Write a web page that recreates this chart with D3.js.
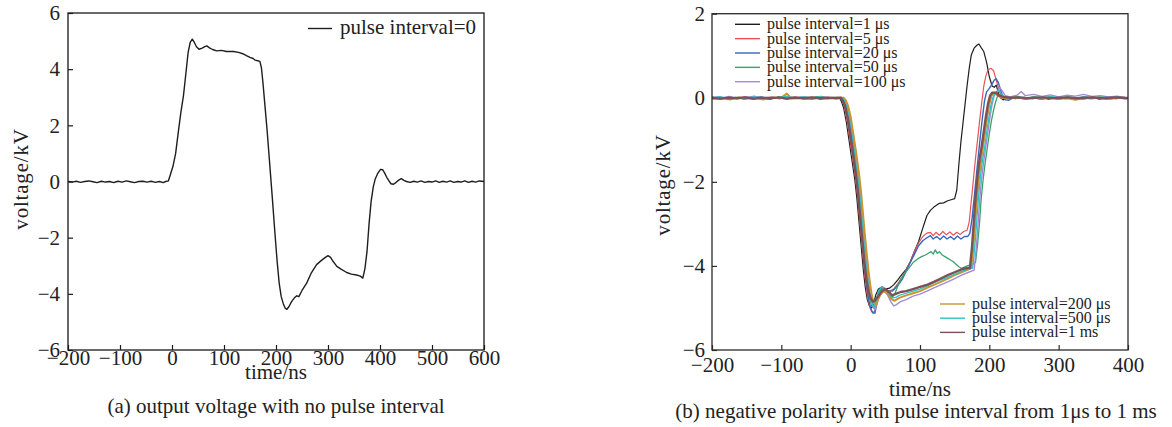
<!DOCTYPE html>
<html>
<head>
<meta charset="utf-8">
<script src="https://cdn.jsdelivr.net/npm/d3@7"></script>
<style>
  html, body { margin: 0; padding: 0; background: #fff; }
  svg { display: block; }
  text { font-family: "Liberation Serif", "Times New Roman", serif; fill: #222; }
</style>
</head>
<body>
<svg id="chart" width="1172" height="427"></svg>
<script>
// ---------- data: (a) output voltage, no pulse interval  [time ns, voltage kV]
const waveNoInterval = [
  [-200,0],[-192,-0.02],[-184,0.01],[-176,-0.03],[-168,0],[-160,0.02],[-152,-0.01],[-144,-0.04],
  [-136,0.01],[-128,-0.02],[-120,0],[-112,-0.04],[-104,0.01],[-96,-0.02],[-88,0.02],[-80,-0.01],
  [-72,-0.04],[-64,0],[-56,0.01],[-48,-0.02],[-40,0.01],[-32,-0.03],[-24,0],[-17,-0.04],[-12,0],
  [-7,0.02],[-3,0.25],[2,0.55],[7,1.0],[12,1.74],[17,2.45],[22,3.05],[27,3.9],[31,4.6],[35,4.95],
  [39,5.07],[43,4.95],[47,4.8],[52,4.71],[58,4.75],[63,4.8],[67,4.83],[72,4.76],[78,4.7],[86,4.65],
  [95,4.67],[105,4.63],[118,4.63],[128,4.6],[136,4.55],[143,4.48],[150,4.42],[156,4.38],[160,4.32],
  [165,4.3],[169,4.28],[172,4.05],[175,3.5],[178,2.86],[183,1.8],[188,0.6],[193,-0.6],[198,-1.85],
  [202,-2.8],[206,-3.6],[210,-4.1],[214,-4.35],[218,-4.52],[221,-4.55],[225,-4.45],[230,-4.28],
  [235,-4.15],[240,-4.07],[244,-4.1],[250,-3.88],[259,-3.62],[268,-3.25],[278,-2.96],[288,-2.8],
  [295,-2.7],[300,-2.64],[305,-2.7],[310,-2.85],[317,-3.02],[325,-3.12],[336,-3.24],[345,-3.3],
  [355,-3.33],[362,-3.37],[367,-3.44],[371,-3.1],[375,-2.5],[379,-1.5],[383,-0.7],[387,-0.2],
  [391,0.1],[396,0.3],[401,0.43],[405,0.42],[409,0.3],[413,0.15],[417,0.03],[421,-0.08],[426,-0.1],
  [431,-0.03],[436,0.05],[441,0.1],[446,0.04],[451,0],[458,-0.03],[465,0.01],[472,-0.02],[479,0.02],
  [486,-0.03],[493,0],[500,-0.02],[507,0.02],[514,-0.03],[521,0.01],[528,-0.02],[535,0.02],
  [542,-0.03],[549,0],[556,-0.02],[563,0.02],[570,-0.03],[577,0.01],[584,-0.02],[591,0.02],[600,0]
];

// ---------- data: (b) negative polarity, various pulse intervals  [time ns, voltage kV]
const wave1us = [
  [-200,-0.02],[-188,0.01],[-176,-0.03],[-164,0],[-152,-0.02],[-140,0.02],[-128,-0.01],[-116,-0.03],
  [-104,0.01],[-92,-0.02],[-80,0],[-68,-0.02],[-56,0.01],[-44,-0.03],[-32,0],[-22,-0.01],[-16,0],
  [-13,-0.1],[-10,-0.25],[-6,-0.6],[-2,-1.05],[2,-1.5],[6,-1.95],[9,-2.4],[12,-2.95],[15,-3.5],
  [18,-4.05],[21,-4.5],[24,-4.8],[27,-4.95],[30,-5.0],[33,-4.92],[36,-4.7],[40,-4.55],[45,-4.5],
  [50,-4.55],[56,-4.53],[62,-4.45],[68,-4.33],[74,-4.2],[80,-4.08],[86,-3.9],[92,-3.65],[98,-3.42],
  [104,-3.1],[110,-2.8],[115,-2.68],[120,-2.6],[128,-2.51],[134,-2.5],[140,-2.45],[146,-2.42],
  [150,-2.4],[153,-2.2],[156,-1.6],[159,-1.05],[162,-0.6],[165,-0.15],[168,0.3],[171,0.7],[174,1.02],
  [178,1.18],[182,1.25],[185,1.28],[188,1.2],[192,1.1],[196,0.85],[200,0.5],[204,0.28],[207,0.25],
  [210,0.3],[213,0.12],[216,0],[220,-0.05],[226,0],[238,-0.02],[250,0.01],[262,-0.02],[274,0],
  [286,-0.03],[298,0.01],[310,-0.02],[322,0],[334,-0.02],[346,0.01],[358,-0.03],[370,0],[382,-0.02],
  [394,0.01],[400,0]
];
const wave5us = [
  [-200,0.01],[-189,-0.03],[-177,0],[-165,-0.02],[-153,0.02],[-141,-0.01],[-129,0],[-117,-0.03],
  [-105,0.01],[-93,-0.02],[-81,0.02],[-69,-0.01],[-57,0],[-45,-0.02],[-33,0.01],[-21,-0.02],[-15,0],
  [-12,-0.08],[-9,-0.22],[-5,-0.55],[-1,-1.0],[3,-1.45],[7,-1.9],[10,-2.35],[13,-2.9],[16,-3.45],
  [19,-4.0],[22,-4.45],[25,-4.8],[28,-5.0],[31,-5.1],[34,-5.1],[37,-4.85],[40,-4.62],[44,-4.5],
  [48,-4.55],[52,-4.6],[56,-4.6],[62,-4.55],[68,-4.42],[74,-4.27],[80,-4.1],[86,-3.9],[92,-3.66],
  [98,-3.45],[104,-3.3],[110,-3.22],[115,-3.2],[119,-3.28],[123,-3.2],[128,-3.27],[133,-3.18],
  [138,-3.26],[143,-3.19],[148,-3.27],[153,-3.2],[158,-3.25],[163,-3.18],[168,-3.15],[171,-2.95],
  [174,-2.45],[177,-1.95],[180,-1.45],[183,-1.0],[186,-0.55],[189,-0.12],[192,0.28],[195,0.52],
  [198,0.66],[202,0.7],[206,0.65],[210,0.42],[214,0.18],[218,0.03],[222,-0.03],[228,0],[240,0.02],
  [252,-0.02],[264,0.01],[276,-0.03],[288,0],[300,-0.02],[312,0.02],[324,-0.01],[336,-0.03],[348,0],
  [360,-0.02],[372,0.01],[384,-0.02],[396,0],[400,-0.01]
];
const wave20us = [
  [-200,-0.01],[-190,0.02],[-178,-0.02],[-166,0.01],[-154,-0.03],[-142,0],[-130,0.02],[-118,-0.02],
  [-106,0],[-94,0.03],[-82,-0.01],[-70,0.01],[-58,-0.02],[-46,0.02],[-34,-0.01],[-22,0],[-14,0],
  [-11,-0.08],[-8,-0.2],[-4,-0.52],[0,-0.95],[4,-1.4],[8,-1.9],[11,-2.35],[14,-2.9],[17,-3.45],
  [20,-3.98],[23,-4.45],[26,-4.8],[29,-5.02],[32,-5.12],[35,-5.12],[38,-4.88],[42,-4.6],[46,-4.5],
  [50,-4.55],[55,-4.6],[60,-4.6],[65,-4.52],[70,-4.42],[75,-4.3],[80,-4.12],[86,-3.92],[92,-3.72],
  [98,-3.52],[104,-3.4],[110,-3.33],[115,-3.28],[119,-3.36],[124,-3.3],[129,-3.37],[134,-3.29],
  [139,-3.36],[144,-3.3],[149,-3.37],[154,-3.29],[159,-3.36],[164,-3.3],[169,-3.3],[172,-3.22],
  [175,-2.88],[178,-2.4],[181,-1.9],[184,-1.4],[187,-0.92],[190,-0.48],[193,-0.08],[196,0.14],
  [199,0.2],[203,0.3],[207,0.42],[210,0.45],[213,0.36],[216,0.2],[219,0.05],[223,-0.05],[228,-0.06],
  [232,-0.02],[240,0],[252,-0.02],[264,0.02],[276,-0.01],[288,0],[300,-0.03],[312,0.01],[324,-0.02],
  [336,0.02],[348,-0.01],[360,0],[372,-0.02],[384,0.01],[396,-0.01],[400,0]
];
const wave50us = [
  [-200,0],[-188,-0.03],[-176,0.01],[-164,-0.02],[-152,0],[-140,-0.04],[-128,0.01],[-116,-0.02],
  [-104,0],[-92,-0.03],[-80,0.01],[-68,-0.02],[-56,-0.04],[-44,0],[-32,-0.02],[-20,0.01],[-13,0],
  [-10,-0.08],[-7,-0.2],[-3,-0.5],[1,-0.92],[5,-1.38],[9,-1.88],[12,-2.32],[15,-2.88],[18,-3.42],
  [21,-3.95],[24,-4.4],[27,-4.75],[30,-4.95],[33,-5.0],[36,-4.85],[40,-4.65],[44,-4.55],[48,-4.57],
  [52,-4.65],[56,-4.72],[60,-4.75],[64,-4.65],[68,-4.48],[72,-4.33],[78,-4.18],[84,-4.05],[90,-3.92],
  [96,-3.84],[102,-3.78],[108,-3.74],[112,-3.7],[116,-3.66],[119,-3.72],[122,-3.62],[125,-3.7],
  [128,-3.66],[132,-3.74],[136,-3.78],[140,-3.82],[144,-3.86],[148,-3.9],[152,-3.96],[156,-4.02],
  [160,-4.06],[164,-4.03],[168,-4.0],[172,-3.98],[176,-3.96],[180,-3.92],[183,-3.5],[186,-2.95],
  [188,-2.45],[191,-1.95],[194,-1.55],[197,-1.2],[200,-0.85],[203,-0.55],[206,-0.3],[209,-0.1],
  [212,0.05],[216,0.08],[220,0.02],[226,-0.03],[238,0],[250,-0.02],[262,0.01],[274,-0.04],[286,0],
  [298,-0.02],[310,0.01],[322,-0.03],[334,0],[346,-0.02],[358,0],[370,-0.04],[382,-0.01],[394,0],
  [400,-0.02]
];
const wave100us = [
  [-200,0.02],[-187,-0.01],[-175,0.03],[-163,-0.02],[-151,0.01],[-139,0.04],[-127,-0.01],[-115,0.02],
  [-103,-0.02],[-91,0.03],[-79,0],[-67,0.02],[-55,-0.01],[-43,0.03],[-31,0],[-19,0.01],[-11,0],
  [-8,-0.08],[-5,-0.2],[-1,-0.5],[3,-0.92],[7,-1.38],[11,-1.88],[14,-2.32],[17,-2.88],[20,-3.42],
  [23,-3.95],[26,-4.4],[29,-4.75],[32,-4.95],[35,-5.05],[38,-4.9],[42,-4.65],[46,-4.58],[50,-4.6],
  [54,-4.72],[58,-4.85],[62,-4.95],[66,-4.92],[72,-4.85],[80,-4.8],[90,-4.72],[100,-4.67],[110,-4.6],
  [120,-4.52],[130,-4.45],[140,-4.38],[150,-4.3],[160,-4.22],[170,-4.15],[178,-4.1],[181,-3.6],
  [184,-2.95],[186,-2.45],[189,-1.9],[192,-1.5],[195,-1.15],[198,-0.8],[201,-0.45],[204,-0.15],
  [207,0.05],[211,0.15],[215,0.25],[219,0.15],[223,0.05],[230,0.02],[240,0.06],[246,0.15],[252,0.05],
  [264,0.08],[276,0.03],[288,0.07],[300,0.02],[312,0.06],[324,0.04],[336,0.08],[348,0.03],[360,0.05],
  [372,0.02],[384,0.04],[396,0.01],[400,0]
];
const wave200us = [
  [-200,-0.03],[-186,0],[-174,-0.04],[-162,0.01],[-150,-0.02],[-138,0],[-126,-0.04],[-114,0.01],
  [-102,-0.02],[-92,0.1],[-86,-0.01],[-74,0],[-62,-0.03],[-50,0.01],[-38,-0.02],[-26,0],[-10,0],
  [-7,-0.06],[-4,-0.18],[0,-0.45],[4,-0.88],[8,-1.32],[12,-1.8],[15,-2.25],[18,-2.8],[21,-3.35],
  [24,-3.85],[27,-4.3],[30,-4.65],[33,-4.88],[36,-4.95],[39,-4.82],[43,-4.68],[48,-4.6],[53,-4.66],
  [58,-4.78],[63,-4.83],[70,-4.76],[80,-4.7],[90,-4.65],[100,-4.6],[110,-4.52],[120,-4.45],
  [130,-4.38],[140,-4.3],[150,-4.22],[160,-4.15],[170,-4.08],[174,-4.05],[177,-3.55],[180,-2.9],
  [182,-2.45],[185,-1.9],[188,-1.5],[191,-1.15],[194,-0.8],[197,-0.45],[200,-0.15],[203,0.05],
  [207,0.1],[212,0.06],[218,0],[228,-0.02],[240,0.01],[252,-0.03],[264,0],[276,-0.02],[288,0.02],
  [300,-0.03],[312,-0.01],[324,-0.05],[336,0],[348,-0.02],[360,0.01],[372,-0.03],[384,0],[396,-0.02],
  [400,0]
];
const wave500us = [
  [-200,0],[-188,0.02],[-176,-0.01],[-164,0.01],[-152,-0.02],[-140,0.02],[-128,0],[-116,-0.02],
  [-104,0.01],[-92,0.03],[-80,-0.01],[-68,0.02],[-56,0],[-44,0.03],[-32,-0.01],[-20,0.01],[-12,0],
  [-9,-0.07],[-6,-0.2],[-2,-0.5],[2,-0.92],[6,-1.38],[10,-1.88],[13,-2.32],[16,-2.88],[19,-3.42],
  [22,-3.95],[25,-4.4],[28,-4.72],[31,-4.9],[34,-4.98],[37,-4.8],[40,-4.6],[45,-4.5],[50,-4.55],
  [55,-4.66],[60,-4.76],[65,-4.75],[70,-4.7],[80,-4.65],[90,-4.6],[100,-4.55],[110,-4.48],[120,-4.4],
  [130,-4.33],[140,-4.27],[150,-4.2],[160,-4.13],[170,-4.07],[176,-4.05],[179,-3.55],[182,-2.9],
  [184,-2.45],[187,-1.9],[190,-1.5],[193,-1.2],[196,-0.85],[199,-0.5],[202,-0.2],[205,0],[209,0.12],
  [213,0.17],[217,0.1],[222,0.02],[230,0],[242,0.03],[254,-0.01],[266,0.02],[278,0],[290,0.03],
  [302,-0.01],[314,0.02],[326,0],[338,0.02],[350,-0.01],[362,0.02],[374,0],[386,0.02],[398,-0.01],
  [400,0]
];
const wave1ms = [
  [-200,0],[-188,-0.02],[-176,0],[-164,-0.01],[-152,0.01],[-140,-0.02],[-128,0],[-116,-0.01],
  [-104,0.01],[-92,-0.02],[-80,0],[-68,-0.01],[-56,0.01],[-44,-0.01],[-32,0],[-20,-0.01],[-14,0],
  [-11,-0.08],[-8,-0.2],[-4,-0.5],[0,-0.92],[4,-1.38],[8,-1.88],[11,-2.32],[14,-2.88],[17,-3.42],
  [20,-3.95],[23,-4.35],[26,-4.62],[29,-4.78],[32,-4.85],[35,-4.82],[40,-4.72],[45,-4.6],[50,-4.55],
  [55,-4.62],[60,-4.7],[66,-4.66],[72,-4.62],[80,-4.6],[90,-4.55],[100,-4.5],[110,-4.45],[120,-4.38],
  [130,-4.3],[140,-4.22],[150,-4.15],[160,-4.08],[168,-4.05],[172,-4.05],[175,-3.55],[178,-2.85],
  [180,-2.4],[183,-1.85],[186,-1.45],[189,-1.15],[192,-0.8],[195,-0.45],[198,-0.15],[201,0.05],
  [204,0.12],[210,0.12],[214,0.05],[220,0.02],[230,0],[242,0.01],[254,-0.01],[266,0],[278,0.01],
  [290,-0.01],[302,0],[314,0.01],[326,-0.01],[338,0],[350,0.01],[362,-0.01],[374,0],[386,0.01],
  [398,-0.01],[400,0]
];

const seriesNames = [
  "pulse interval=1 μs", "pulse interval=5 μs", "pulse interval=20 μs", "pulse interval=50 μs",
  "pulse interval=100 μs", "pulse interval=200 μs", "pulse interval=500 μs", "pulse interval=1 ms"
];
const seriesValues = [wave1us, wave5us, wave20us, wave50us, wave100us, wave200us, wave500us, wave1ms];
const seriesColors = ["#1e1e1e", "#e8505a", "#3468c0", "#3aa26c", "#a68ad8", "#c8952e", "#2cc2c4", "#7a5257"];
const seriesWidths = [1.2, 1.2, 1.4, 1.3, 1.4, 2.0, 1.3, 2.4];

const leftXTicks = [-200, -100, 0, 100, 200, 300, 400, 500, 600];
const leftYTicks = [-6, -4, -2, 0, 2, 4, 6];
const rightXTicks = [-200, -100, 0, 100, 200, 300, 400];
const rightYTicks = [-6, -4, -2, 0, 2];

const svg = d3.select("#chart");
const fmt = d3.format("");

function panel(opts) {
  const g = svg.append("g");
  const x = d3.scaleLinear().domain(opts.xDomain).range([opts.left, opts.right]);
  const y = d3.scaleLinear().domain(opts.yDomain).range([opts.bottom, opts.top]);

  const clipId = "clip-" + opts.id;
  svg.append("clipPath").attr("id", clipId).append("rect")
    .attr("x", opts.left).attr("y", opts.top)
    .attr("width", opts.right - opts.left).attr("height", opts.bottom - opts.top);

  const xAxis = g.append("g").attr("transform", `translate(0,${opts.bottom})`)
    .call(d3.axisBottom(x).tickValues(opts.xTicks).tickFormat(fmt)
      .tickSizeInner(-5).tickSizeOuter(0).tickPadding(opts.xPad));
  const yAxis = g.append("g").attr("transform", `translate(${opts.left},0)`)
    .call(d3.axisLeft(y).tickValues(opts.yTicks).tickFormat(fmt)
      .tickSizeInner(-5).tickSizeOuter(0).tickPadding(opts.yPad));
  [xAxis, yAxis].forEach(a => {
    a.select(".domain").remove();
    a.selectAll(".tick line").attr("stroke", opts.frameColor).attr("stroke-width", 1.2);
    a.selectAll(".tick text").attr("font-size", 21)
      .attr("font-family", '"Liberation Serif", "Times New Roman", serif').attr("fill", "#222");
  });

  const lines = g.append("g").attr("clip-path", `url(#${clipId})`);
  const line = d3.line().x(d => x(d[0])).y(d => y(d[1]));
  opts.series.forEach((s, i) => {
    lines.append("path").datum(s.values)
      .attr("d", line).attr("fill", "none")
      .attr("stroke", s.color).attr("stroke-width", s.width)
      .attr("stroke-linejoin", "round");
  });

  g.append("rect")
    .attr("x", opts.left).attr("y", opts.top)
    .attr("width", opts.right - opts.left).attr("height", opts.bottom - opts.top)
    .attr("fill", "none").attr("stroke", opts.frameColor).attr("stroke-width", 1.3);

  g.append("text").attr("x", (opts.left + opts.right) / 2).attr("y", opts.xTitleY)
    .attr("text-anchor", "middle").attr("font-size", 21).text("time/ns");
  g.append("text")
    .attr("transform", `translate(${opts.yTitleX},${opts.yTitleCy}) rotate(-90)`)
    .attr("text-anchor", "middle").attr("font-size", 21).attr("letter-spacing", 0.8)
    .text("voltage/kV");
  g.append("text").attr("x", opts.captionX).attr("y", opts.captionY)
    .attr("text-anchor", "middle").attr("font-size", 21).text(opts.caption);
  return { g, x, y };
}

// (a)
const pa = panel({
  id: "a", left: 68, right: 484, top: 13, bottom: 350,
  xDomain: [-200, 600], yDomain: [-6, 6], xTicks: leftXTicks, yTicks: leftYTicks,
  xPad: 0.5, yPad: 8, frameColor: "#1a1a1a",
  series: [{ values: waveNoInterval, color: "#1e1e1e", width: 1.4 }],
  xTitleY: 379, yTitleX: 28, yTitleCy: 179,
  caption: "(a) output voltage with no pulse interval", captionX: 276, captionY: 413
});
pa.g.append("line").attr("x1", 308).attr("x2", 332).attr("y1", 28.5).attr("y2", 28.5)
  .attr("stroke", "#1e1e1e").attr("stroke-width", 1.4);
pa.g.append("text").attr("x", 340).attr("y", 33.5).attr("font-size", 21).text("pulse interval=0");

// (b)
const pb = panel({
  id: "b", left: 712, right: 1128, top: 13.7, bottom: 350,
  xDomain: [-200, 400], yDomain: [-6, 2], xTicks: rightXTicks, yTicks: rightYTicks,
  xPad: 7, yPad: 7, frameColor: "#2a2a2a",
  series: seriesValues.map((v, i) => ({ values: v, color: seriesColors[i], width: seriesWidths[i] })),
  xTitleY: 396, yTitleX: 670, yTitleCy: 185,
  caption: "(b) negative polarity with pulse interval from 1μs to 1 ms", captionX: 916, captionY: 418
});

// legends of (b): first five at top left, last three at bottom right
const legTop = seriesNames.slice(0, 5).map((n, i) => ({ n, i, x: 735, y: 24.3 + i * 14.35 }));
const legBot = seriesNames.slice(5).map((n, k) => ({ n, i: k + 5, x: 940, y: 304 + k * 14.2 }));
[...legTop, ...legBot].forEach(d => {
  pb.g.append("line").attr("x1", d.x).attr("x2", d.x + 25).attr("y1", d.y).attr("y2", d.y)
    .attr("stroke", seriesColors[d.i]).attr("stroke-width", 1.4);
  pb.g.append("text").attr("x", d.x + 32).attr("y", d.y + 5).attr("font-size", 16).text(d.n);
});
</script>
</body>
</html>
